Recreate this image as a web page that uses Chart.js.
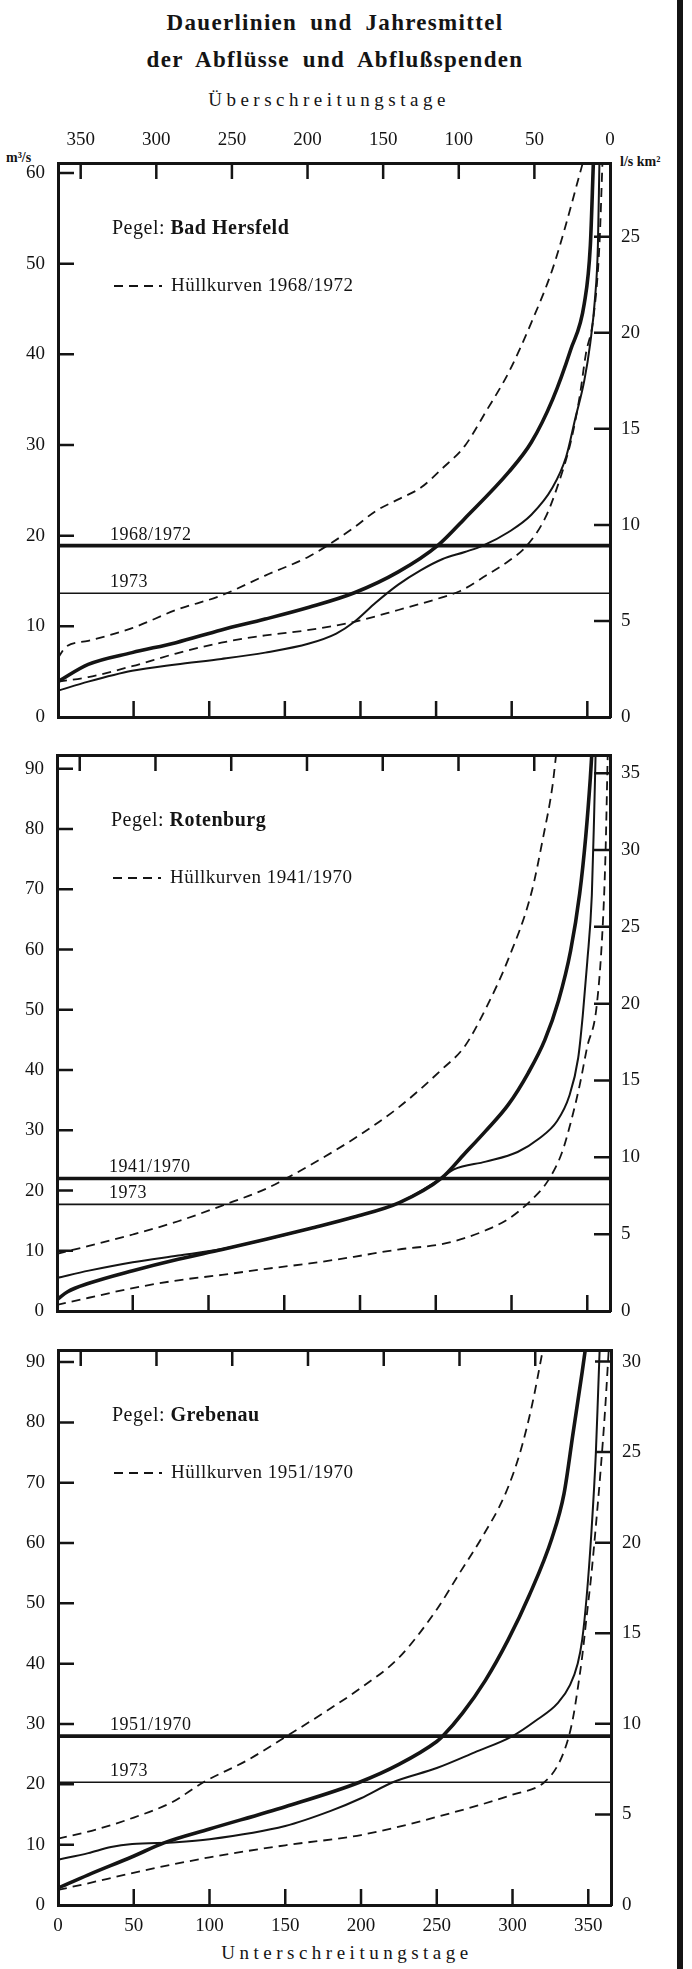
<!DOCTYPE html>
<html>
<head>
<meta charset="utf-8">
<title>Dauerlinien und Jahresmittel</title>
<script src="https://cdn.jsdelivr.net/npm/chart.js@4.4.0/dist/chart.umd.min.js"></script>
<style>
  html, body { margin: 0; padding: 0; background: #fff; }
  body {
    width: 692px;
    height: 1969px;
    position: relative;
    overflow: hidden;
    font-family: 'Liberation Serif', 'DejaVu Serif', serif;
    color: #141414;
  }
  .txt { position: absolute; white-space: nowrap; }
  .center { left: 0; width: 670px; text-align: center; }
  .title { font-weight: bold; font-size: 23px; line-height: 28px; letter-spacing: 1.3px; word-spacing: 6px; }
  .axis-title { font-size: 19px; line-height: 24px; letter-spacing: 4.5px; }
  .unit { font-size: 14px; font-weight: bold; line-height: 16px; }
  canvas { position: absolute; left: 0; }
  #edge { position: absolute; left: 677px; top: 0; width: 6px; height: 1969px; background: #141414; }
</style>
</head>
<body>

<div class="txt center title" style="top:9px">Dauerlinien und Jahresmittel</div>
<div class="txt center title" style="top:46px">der Abflüsse und Abflußspenden</div>
<div class="txt center axis-title" style="top:88px; left:-6px">Überschreitungstage</div>
<div class="txt unit" style="left:6px; top:150px">m³/s</div>
<div class="txt unit" style="left:620px; top:154px">l/s km²</div>
<div class="txt center axis-title" style="top:1941px; left:12px">Unterschreitungstage</div>
<div id="edge"></div>

<canvas id="hersfeld" width="692" height="650" style="top:110px"></canvas>
<canvas id="rotenburg" width="692" height="615" style="top:725px"></canvas>
<canvas id="grebenau" width="692" height="649" style="top:1320px"></canvas>

<script>
  // ---- data: [Unterschreitungstage, Abfluss m3/s] ----
  const DAY_TICKS = [0, 50, 100, 150, 200, 250, 300, 350];

  // Bad Hersfeld
  const hersfeldMean = [[0, 3.9], [20, 5.8], [49, 7.1], [78, 8.2], [108, 9.6], [137, 10.8], [166, 12.1], [196, 13.7], [225, 16.0], [251, 18.9], [269, 21.9], [298, 27.0], [313, 30.3], [327, 35.0], [339, 40.5], [348, 45.6], [352, 52.0], [354, 61.1]];
  const hersfeld1973 = [[0, 2.9], [20, 3.9], [49, 5.1], [78, 5.8], [108, 6.4], [137, 7.1], [166, 8.1], [184, 9.2], [196, 10.5], [210, 12.6], [225, 14.6], [240, 16.2], [254, 17.4], [269, 18.2], [281, 18.9], [298, 20.4], [313, 22.3], [327, 25.3], [336, 28.7], [342, 32.9], [348, 37.1], [352, 41.3], [355, 46.0], [357, 52.0], [358, 61.1]];
  const hersfeldLow = [[0, 3.9], [20, 4.4], [49, 5.6], [78, 7.0], [108, 8.2], [137, 9.0], [166, 9.6], [196, 10.5], [225, 11.8], [254, 13.2], [266, 13.9], [283, 15.6], [298, 17.2], [310, 18.9], [322, 21.9], [330, 25.3], [339, 30.3], [345, 35.4], [349, 40.0], [354, 44.0], [358, 52.0], [360, 61.1]];
  const hersfeldHigh = [[0, 6.5], [5, 7.7], [20, 8.4], [49, 9.8], [78, 11.8], [108, 13.4], [137, 15.6], [166, 17.7], [178, 18.9], [195, 20.8], [210, 22.7], [225, 24.0], [240, 25.3], [254, 27.4], [269, 29.9], [283, 33.7], [298, 38.0], [313, 43.5], [327, 49.4], [336, 54.4], [345, 59.9], [347, 61.1]];
  const hersfeldMeanLevel = 18.9;
  const hersfeld1973Level = 13.65;

  // Rotenburg
  const rotenburgMean = [[0, 1.9], [7, 3.2], [21, 4.6], [50, 6.7], [80, 8.6], [109, 10.2], [138, 11.9], [167, 13.7], [196, 15.6], [226, 18.0], [254, 22.1], [269, 26.1], [283, 29.9], [298, 34.3], [311, 39.5], [322, 45.0], [331, 51.5], [339, 59.8], [345, 69.3], [349, 78.8], [352, 88.4], [353, 92.5]];
  const rotenburg1973 = [[0, 5.5], [21, 6.7], [50, 8.1], [80, 9.2], [109, 10.3], [138, 11.9], [167, 13.7], [196, 15.6], [226, 18.0], [254, 22.1], [262, 23.5], [283, 24.8], [304, 26.4], [318, 28.6], [330, 31.5], [338, 35.6], [344, 42.0], [347, 49.0], [350, 58.0], [353, 69.0], [354.5, 82.0], [355.5, 92.5]];
  const rotenburgLow = [[0, 1.0], [21, 2.2], [50, 3.8], [80, 5.1], [109, 6.0], [138, 7.0], [167, 7.9], [196, 9.0], [225, 10.2], [254, 11.1], [269, 12.1], [283, 13.4], [298, 15.3], [313, 18.4], [324, 21.6], [333, 26.1], [339, 31.2], [345, 37.5], [350, 43.9], [356, 50.2], [360, 63.0], [362, 75.6], [363.5, 92.5]];
  const rotenburgHigh = [[0, 9.5], [21, 10.8], [50, 12.7], [80, 14.9], [109, 17.5], [138, 20.3], [152, 22.1], [167, 24.2], [196, 28.6], [225, 33.7], [254, 40.1], [269, 43.9], [283, 50.2], [298, 58.5], [313, 69.3], [321, 78.8], [327, 87.1], [329.5, 92.5]];
  const rotenburgMeanLevel = 22.0;
  const rotenburg1973Level = 17.7;

  // Grebenau
  const grebenauMean = [[0, 2.8], [20, 5.0], [49, 8.0], [70, 10.3], [100, 12.6], [150, 16.3], [199, 20.35], [225, 23.3], [250, 27.1], [254, 28.0], [267, 31.8], [282, 37.2], [297, 43.9], [311, 51.3], [326, 60.8], [334, 68.2], [340, 78.3], [346, 88.4], [348, 92.0]];
  const grebenau1973 = [[0, 7.5], [20, 8.6], [35, 9.6], [49, 10.1], [78, 10.4], [100, 10.9], [150, 13.1], [180, 15.6], [200, 17.7], [221, 20.35], [250, 22.7], [275, 25.3], [300, 28.0], [315, 30.5], [330, 33.5], [338, 36.5], [343, 40.0], [346, 44.0], [349, 51.3], [352, 61.5], [355, 74.9], [356.5, 85.0], [357.5, 92.0]];
  const grebenauLow = [[0, 2.5], [20, 3.6], [49, 5.3], [100, 7.9], [150, 9.9], [200, 11.6], [250, 14.6], [300, 18.3], [321, 20.35], [331, 23.7], [337, 27.8], [340, 31.1], [343, 35.8], [346, 41.2], [349, 48.0], [352, 54.7], [355, 62.8], [358, 71.6], [361, 81.7], [363.5, 92.0]];
  const grebenauHigh = [[0, 11.0], [25, 12.5], [50, 14.5], [75, 17.0], [96, 20.35], [125, 24.0], [151, 28.0], [175, 31.8], [200, 36.0], [225, 41.0], [250, 49.0], [265, 55.0], [280, 61.0], [295, 68.0], [305, 75.0], [313, 83.0], [320, 92.0]];
  const grebenauMeanLevel = 28.0;
  const grebenau1973Level = 20.35;

  const INK = '#141414';
  const SERIF = '"Liberation Serif", "DejaVu Serif", serif';

  const toXY = pairs => pairs.map(([x, y]) => ({ x, y }));
  const fixTicks = values => scale => { scale.ticks = values.map(v => ({ value: v })); };

  // tick marks drawn into the frame, like the printed figure
  const inwardTicks = {
    id: 'inwardTicks',
    afterDatasetsDraw(chart) {
      const { ctx, chartArea: a } = chart;
      const len = 16;
      ctx.save();
      ctx.strokeStyle = INK;
      ctx.lineWidth = 2.5;
      ctx.beginPath();
      for (const scale of Object.values(chart.scales)) {
        for (const t of scale.ticks) {
          const p = scale.getPixelForValue(t.value);
          if (scale.isHorizontal()) {
            if (p < a.left + 4 || p > a.right - 4) continue;
            if (scale.position === 'top') { ctx.moveTo(p, a.top); ctx.lineTo(p, a.top + len); }
            else { ctx.moveTo(p, a.bottom); ctx.lineTo(p, a.bottom - len); }
          } else {
            if (p < a.top + 4 || p > a.bottom - 4) continue;
            if (scale.position === 'left') { ctx.moveTo(a.left, p); ctx.lineTo(a.left + len, p); }
            else { ctx.moveTo(a.right, p); ctx.lineTo(a.right - len, p); }
          }
        }
      }
      ctx.stroke();
      ctx.restore();
    }
  };

  // station name, legend and labels of the annual means
  const notes = {
    id: 'notes',
    afterDatasetsDraw(chart, args, o) {
      const { ctx, chartArea: a, scales } = chart;
      ctx.save();
      ctx.fillStyle = INK;
      ctx.strokeStyle = INK;
      ctx.textBaseline = 'middle';
      ctx.letterSpacing = '0.5px';

      const x0 = a.left + 54, y0 = a.top + 66;
      ctx.font = `20px ${SERIF}`;
      ctx.fillText('Pegel: ', x0, y0);
      const w = ctx.measureText('Pegel: ').width;
      ctx.font = `bold 20px ${SERIF}`;
      ctx.fillText(o.station, x0 + w, y0);

      const y1 = a.top + 123;
      ctx.lineWidth = 1.8;
      ctx.setLineDash([9, 6]);
      ctx.beginPath();
      ctx.moveTo(a.left + 56, y1);
      ctx.lineTo(a.left + 104, y1);
      ctx.stroke();
      ctx.setLineDash([]);
      ctx.font = `19px ${SERIF}`;
      ctx.fillText('Hüllkurven ' + o.period, a.left + 113, y1);

      ctx.textBaseline = 'alphabetic';
      ctx.font = `18px ${SERIF}`;
      ctx.fillText(o.period, a.left + 52, scales.y.getPixelForValue(o.meanLevel) - 6);
      ctx.fillText('1973', a.left + 52, scales.y.getPixelForValue(o.yearLevel) - 6);
      ctx.restore();
    }
  };

  function panel(id, p) {
    const line = (pairs, width, dash) => ({
      data: toXY(pairs),
      borderColor: INK,
      borderWidth: width,
      borderDash: dash || [],
      pointRadius: 0,
      showLine: true,
      fill: false,
      cubicInterpolationMode: 'monotone'
    });
    const level = (v, width) => line([[0, v], [365, v]], width);
    const tickFont = { family: SERIF, size: 19 };
    const noGrid = { drawOnChartArea: false, drawTicks: false };
    const frame = { display: true, width: 3, color: INK };

    return new Chart(document.getElementById(id), {
      type: 'scatter',
      data: {
        datasets: [
          line(p.high, 1.8, [9, 6]),
          line(p.low, 1.8, [9, 6]),
          line(p.year, 2),
          line(p.mean, 3.6),
          level(p.meanLevel, 3.6),
          level(p.yearLevel, 1.6)
        ]
      },
      options: {
        responsive: false,
        animation: false,
        devicePixelRatio: 1,
        layout: { padding: 0 },
        plugins: {
          legend: { display: false },
          tooltip: { enabled: false },
          notes: { station: p.station, period: p.period, meanLevel: p.meanLevel, yearLevel: p.yearLevel }
        },
        scales: {
          x: {
            type: 'linear', position: 'bottom', min: 0, max: 365,
            afterBuildTicks: fixTicks(DAY_TICKS),
            afterFit: s => { s.height = p.bottom; },
            ticks: { display: p.bottomLabels, font: tickFont, color: INK, padding: 10, maxRotation: 0, autoSkip: false },
            grid: noGrid, border: frame
          },
          xTop: {
            type: 'linear', position: 'top', reverse: true, min: 0, max: 365,
            afterBuildTicks: fixTicks(DAY_TICKS),
            afterFit: s => { s.height = p.top; },
            ticks: { display: p.topLabels, font: tickFont, color: INK, padding: 12, maxRotation: 0, autoSkip: false },
            grid: noGrid, border: frame
          },
          y: {
            type: 'linear', position: 'left', min: 0, max: p.qMax,
            afterBuildTicks: fixTicks(p.qTicks),
            afterFit: s => { s.width = p.left; },
            ticks: { font: tickFont, color: INK, padding: 13 },
            grid: noGrid, border: frame
          },
          ySpende: {
            type: 'linear', position: 'right', min: 0, max: p.qMax * p.spende,
            afterBuildTicks: fixTicks(p.spendeTicks),
            afterFit: s => { s.width = p.right; },
            ticks: { font: tickFont, color: INK, padding: 11 },
            grid: noGrid, border: frame
          }
        }
      },
      plugins: [inwardTicks, notes]
    });
  }

  panel('hersfeld', {
    station: 'Bad Hersfeld', period: '1968/1972',
    mean: hersfeldMean, year: hersfeld1973, low: hersfeldLow, high: hersfeldHigh,
    meanLevel: hersfeldMeanLevel, yearLevel: hersfeld1973Level,
    qMax: 61.1, qTicks: [0, 10, 20, 30, 40, 50, 60],
    spende: 0.472, spendeTicks: [0, 5, 10, 15, 20, 25],
    top: 53, bottom: 43, left: 58, right: 82,
    topLabels: true, bottomLabels: false
  });

  panel('rotenburg', {
    station: 'Rotenburg', period: '1941/1970',
    mean: rotenburgMean, year: rotenburg1973, low: rotenburgLow, high: rotenburgHigh,
    meanLevel: rotenburgMeanLevel, yearLevel: rotenburg1973Level,
    qMax: 92.3, qTicks: [0, 10, 20, 30, 40, 50, 60, 70, 80, 90],
    spende: 0.392, spendeTicks: [0, 5, 10, 15, 20, 25, 30, 35],
    top: 30, bottom: 29, left: 57, right: 82,
    topLabels: false, bottomLabels: false
  });

  panel('grebenau', {
    station: 'Grebenau', period: '1951/1970',
    mean: grebenauMean, year: grebenau1973, low: grebenauLow, high: grebenauHigh,
    meanLevel: grebenauMeanLevel, yearLevel: grebenau1973Level,
    qMax: 92.0, qTicks: [0, 10, 20, 30, 40, 50, 60, 70, 80, 90],
    spende: 0.333, spendeTicks: [0, 5, 10, 15, 20, 25, 30],
    top: 30, bottom: 64, left: 58, right: 81,
    topLabels: false, bottomLabels: true
  });
</script>
</body>
</html>
